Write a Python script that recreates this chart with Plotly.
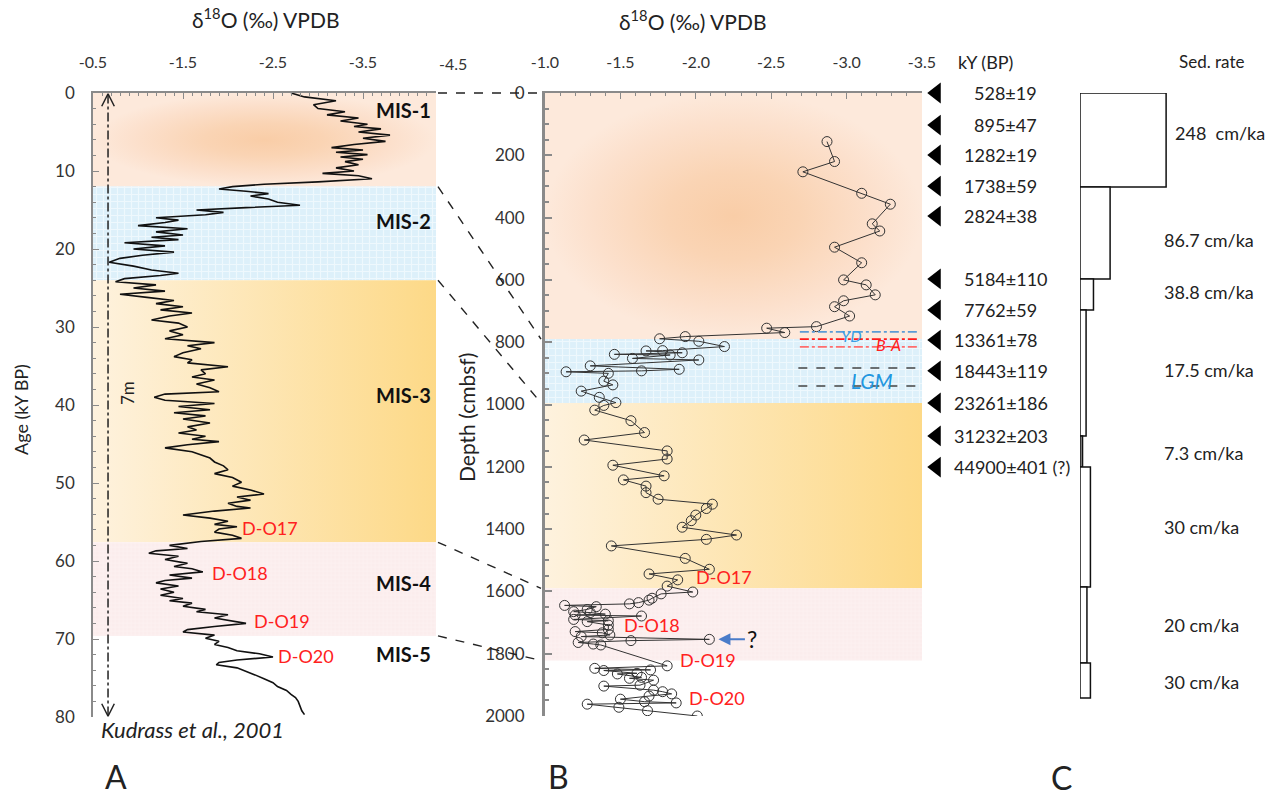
import plotly.graph_objects as go

# ---------------- data ----------------
# Panel A: Kudrass et al. 2001 record (age kY BP, d18O permil)
A_age = [0.0, 0.5, 1.0, 1.5, 2.0, 2.4, 2.8, 3.2, 3.6, 4.0, 4.3, 4.6, 5.0, 5.4, 5.8, 6.2, 6.6, 7.0, 7.3, 7.6,
         7.9, 8.2, 8.5, 8.8, 9.2, 9.6, 10.0, 10.3, 10.6, 11.0, 11.4, 11.7, 12.0, 12.3, 12.6, 12.9, 13.2, 13.6,
         14.0, 14.4, 14.7, 15.0, 15.3, 15.6, 16.0, 16.3, 16.6, 17.0, 17.4, 17.8, 18.2, 18.5, 18.8, 19.2, 19.6,
         20.0, 20.4, 20.8, 21.2, 21.7, 22.2, 22.7, 23.1, 23.4, 23.8, 24.2, 24.6, 25.0, 25.4, 25.8, 26.2, 26.6,
         27.0, 27.4, 27.8, 28.2, 28.6, 29.1, 29.5, 30.0, 30.5, 31.0, 31.5, 32.0, 32.4, 32.8, 33.3, 33.8, 34.2,
         34.6, 35.1, 35.5, 36.0, 36.4, 36.8, 37.3, 37.8, 38.3, 38.6, 39.0, 39.4, 39.8, 40.2, 40.6, 41.0, 41.4,
         41.8, 42.3, 42.8, 43.2, 43.6, 44.0, 44.4, 44.7, 45.1, 45.5, 46.0, 46.4, 46.8, 47.3, 47.8, 48.3, 48.8,
         49.3, 49.9, 50.4, 50.9, 51.4, 51.8, 52.2, 52.6, 53.0, 53.2, 53.6, 54.1, 54.5, 54.9, 55.3, 55.6, 55.9,
         56.3, 56.7, 57.1, 57.5, 58.0, 58.4, 58.7, 59.0, 59.4, 59.8, 60.3, 60.7, 61.0, 61.4, 61.8, 62.2, 62.5,
         62.8, 63.2, 63.6, 64.0, 64.4, 64.8, 65.1, 65.4, 65.8, 66.2, 66.5, 66.9, 67.3, 67.7, 68.0, 68.4, 68.8,
         69.1, 69.5, 69.9, 70.3, 70.7, 71.1, 71.5, 71.9, 72.3, 72.7, 73.0, 73.3, 73.7, 74.1, 74.6, 75.1, 75.6,
         76.1, 76.6, 77.1, 77.5, 78.0, 78.6, 79.2, 79.7]
A_d18o = [-2.70, -2.85, -3.20, -2.95, -3.00, -3.30, -3.10, -3.45, -3.25, -3.55, -3.40, -3.70, -3.45, -3.80,
          -3.50, -3.75, -3.40, -3.15, -3.50, -3.20, -3.55, -3.25, -3.50, -3.30, -3.45, -3.20, -3.40, -3.05,
          -3.45, -3.60, -3.00, -2.40, -2.05, -1.90, -2.20, -2.45, -2.25, -2.45, -2.55, -2.80, -2.20, -1.65,
          -1.95, -1.75, -1.20, -1.45, -1.30, -1.00, -1.55, -1.20, -1.50, -1.15, -1.45, -0.85, -1.30, -0.95,
          -1.40, -1.05, -0.80, -0.68, -0.95, -1.15, -1.45, -1.25, -0.85, -0.75, -1.20, -0.95, -1.30, -0.80,
          -1.10, -1.40, -1.20, -1.50, -1.25, -1.60, -1.35, -1.15, -1.45, -1.55, -1.35, -1.50, -1.30, -1.85,
          -1.55, -1.70, -1.50, -1.40, -1.60, -1.55, -2.00, -1.70, -1.75, -1.60, -1.85, -1.65, -1.80, -1.90,
          -1.30, -1.18, -1.30, -1.85, -1.45, -1.80, -1.40, -1.75, -1.50, -1.80, -1.55, -1.65, -1.45, -1.75,
          -1.60, -1.90, -1.55, -1.30, -1.60, -1.70, -1.80, -1.85, -1.95, -2.00, -1.85, -2.05, -2.15, -2.05,
          -2.25, -2.40, -2.10, -2.25, -2.00, -2.10, -2.25, -1.85, -1.50, -1.80, -2.00, -1.85, -2.10, -1.90,
          -1.85, -2.05, -2.15, -1.70, -1.35, -1.55, -1.20, -1.12, -1.45, -1.30, -1.55, -1.40, -1.60, -1.72,
          -1.35, -1.60, -1.30, -1.20, -1.45, -1.25, -1.40, -1.25, -1.50, -1.35, -1.60, -1.50, -1.75, -1.65,
          -2.00, -1.85, -2.05, -2.20, -1.85, -1.55, -1.50, -1.85, -1.75, -1.90, -1.85, -2.00, -2.10, -2.35,
          -2.50, -2.10, -1.90, -1.87, -2.10, -2.20, -2.30, -2.40, -2.50, -2.55, -2.65, -2.70, -2.75, -2.78,
          -2.80, -2.82, -2.85]

# Panel B: this core (depth cmbsf, d18O permil)
B_depth = [156, 220, 253, 322, 357, 420, 443, 495, 545, 600, 616, 648, 667, 686, 716, 750, 755, 769, 782, 789,
           797, 814, 827, 828, 834, 839, 841, 852, 857, 876, 887, 892, 895, 900, 925, 937, 957, 977, 994, 1003,
           1018, 1052, 1090, 1114, 1149, 1175, 1195, 1229, 1242, 1262, 1283, 1304, 1320, 1334, 1355, 1373, 1394,
           1419, 1433, 1454, 1494, 1529, 1544, 1563, 1583, 1602, 1608, 1622, 1628, 1636, 1640, 1645, 1649, 1658,
           1665, 1668, 1673, 1676, 1679, 1690, 1694, 1697, 1708, 1722, 1729, 1733, 1740, 1745, 1754, 1758, 1764,
           1769, 1772, 1839, 1847, 1852, 1854, 1863, 1865, 1876, 1879, 1885, 1901, 1904, 1917, 1922, 1929, 1936,
           1946, 1954, 1958, 1962, 1972, 1983, 2000]
B_d18o = [-2.87, -2.92, -2.71, -3.10, -3.29, -3.17, -3.22, -2.92, -3.10, -2.98, -3.13, -3.19, -2.98, -2.92,
          -3.02, -2.80, -2.47, -2.59, -1.93, -1.76, -2.02, -2.19, -1.78, -1.67, -1.91, -1.46, -1.83, -1.58,
          -2.02, -1.30, -1.89, -1.64, -1.14, -1.42, -1.39, -1.45, -1.24, -1.36, -1.47, -1.39, -1.33, -1.57,
          -1.66, -1.26, -1.81, -1.81, -1.45, -1.79, -1.52, -1.67, -1.67, -1.75, -2.11, -2.07, -2.00, -1.97,
          -1.91, -2.27, -2.07, -1.44, -1.93, -2.09, -1.69, -1.88, -1.81, -1.98, -1.77, -1.71, -1.69, -1.62,
          -1.56, -1.13, -1.34, -1.28, -1.19, -1.30, -1.40, -1.20, -1.64, -1.19, -1.42, -1.28, -1.42, -1.42,
          -1.20, -1.38, -1.43, -1.24, -2.09, -1.57, -1.22, -1.32, -1.37, -1.81, -1.33, -1.70, -1.39, -1.61,
          -1.48, -1.64, -1.56, -1.72, -1.63, -1.39, -1.72, -1.78, -1.84, -1.69, -1.50, -1.66, -1.87, -1.28,
          -1.49, -1.68, -2.01]

# Marine isotope stage boundaries
mis_names = ["MIS-1", "MIS-2", "MIS-3", "MIS-4", "MIS-5"]
mis_age_bounds = [0, 12, 24, 57.6, 69.6]          # kY BP
mis_depth_bounds = [0, 790, 995, 1590, 1822]      # cmbsf
mis_label_age = [2.2, 16.4, 38.7, 62.8, 71.9]

# D-O events
do_names = ["D-O17", "D-O18", "D-O19", "D-O20"]
do_age = [55.8, 61.5, 67.7, 72.2]
do_age_x = [-2.13, -1.80, -2.27, -2.53]
do_depth = [1554, 1708, 1820, 1942]
do_depth_x = [-1.99, -1.51, -1.88, -1.94]

# Radiocarbon dates (depth, label)
date_depth = [0, 103, 199, 299, 395, 597, 697, 793, 892, 995, 1101, 1201]
date_label = ["528±19", "895±47", "1282±19", "1738±59", "2824±38", "5184±110", "7762±59",
              "13361±78", "18443±119", "23261±186", "31232±203", "44900±401 (?)"]

# Sedimentation rates
sed_top = [0, 302, 597, 697, 1101, 1201, 1586, 1830]
sed_bottom = [302, 597, 697, 1101, 1201, 1586, 1830, 1942]
sed_rate = [248, 86.7, 38.8, 17.5, 7.3, 30, 20, 30]
sed_label = ["248&nbsp;&nbsp;cm/ka", "86.7 cm/ka", "38.8 cm/ka", "17.5 cm/ka", "7.3 cm/ka", "30 cm/ka",
             "20 cm/ka", "30 cm/ka"]
sed_label_depth = [128, 472, 639, 889, 1156, 1393, 1708, 1891]

# Event horizons in panel B
yd_depth = 767
ba_depths = [790, 815]
lgm_depths = [883, 941]
question_depth = 1754

A_xticks = [-0.5, -1.5, -2.5, -3.5, -4.5]
A_xticktext = ["-0.5", "-1.5", "-2.5", "-3.5", "-4.5"]
A_yticks = [0, 10, 20, 30, 40, 50, 60, 70, 80]
B_xticks = [-1.0, -1.5, -2.0, -2.5, -3.0, -3.5]
B_xticktext = ["-1.0", "-1.5", "-2.0", "-2.5", "-3.0", "-3.5"]
B_yticks = [0, 200, 400, 600, 800, 1000, 1200, 1400, 1600, 1800, 2000]

# ---------------- layout helpers ----------------
W, H = 1281, 797
FONT = "Lato"


def px(x):
    return x / W


def py(y):
    return 1 - y / H


A_dom_x = (93, 436)
A_rng_x = (-0.5, -0.5 - (436 - 93) / 90.0)   # 90 px per permil
A_dom_y = (93, 717)
A_rng_y = (0, 80)
B_dom_x = (545, 922)
B_rng_x = (-1.0, -3.5)
B_dom_y = (93, 716)
B_rng_y = (0, 2000)


def lin(v, dom, rng):
    return dom[0] + (v - rng[0]) / (rng[1] - rng[0]) * (dom[1] - dom[0])


fig = go.Figure()

# ---------- band fills ----------
radial = dict(type="radial", colorscale=[[0, "#F9CDA7"], [0.35, "#FAD4B4"], [0.75, "#FCE0CC"], [1, "#FDE9DB"]])
horiz = dict(type="horizontal", colorscale=[[0, "#FEF2DE"], [1, "#FDD987"]])
blue_pat = dict(shape="+", bgcolor="#DDF0FA", fgcolor="#FFFFFF", size=7, solidity=0.3)
pink_pat = dict(shape="+", bgcolor="#FBEDED", fgcolor="#FFF8F8", size=4, solidity=0.3)


def band(xref, yref, x0, x1, y0, y1, style):
    kw = dict(x=[x0, x1, x1, x0, x0], y=[y0, y0, y1, y1, y0], fill="toself", mode="lines",
              line=dict(width=0), hoverinfo="skip", showlegend=False, xaxis=xref, yaxis=yref)
    if style == "radial":
        kw["fillgradient"] = radial
        kw["fillcolor"] = "#FBD9BC"
    elif style == "horiz":
        kw["fillgradient"] = horiz
        kw["fillcolor"] = "#FEE6B0"
    elif style == "blue":
        kw["fillpattern"] = blue_pat
        kw["fillcolor"] = "#DDF0FA"
    else:
        kw["fillpattern"] = pink_pat
        kw["fillcolor"] = "#FBEDED"
    fig.add_trace(go.Scatter(**kw))


styles = ["radial", "blue", "horiz", "pink"]
for i, st in enumerate(styles):
    band("x", "y", A_rng_x[0], A_rng_x[1], mis_age_bounds[i], mis_age_bounds[i + 1], st)
    band("x2", "y2", B_rng_x[0], B_rng_x[1], mis_depth_bounds[i], mis_depth_bounds[i + 1], st)

# ---------- curves ----------
fig.add_trace(go.Scatter(x=A_d18o, y=A_age, mode="lines", line=dict(color="#111111", width=1.6),
                         xaxis="x", yaxis="y", showlegend=False, hoverinfo="skip"))
fig.add_trace(go.Scatter(x=B_d18o, y=B_depth, mode="lines+markers",
                         line=dict(color="#333333", width=1),
                         marker=dict(symbol="circle-open", size=10, color="#333333", line=dict(width=1)),
                         xaxis="x2", yaxis="y2", showlegend=False, hoverinfo="skip"))

# 7 m arrow (dash-dot with open heads)
arrow_x = -0.667
fig.add_shape(type="line", xref="x", yref="y", x0=arrow_x, x1=arrow_x, y0=0.2, y1=79.8,
              line=dict(color="#222222", width=1.5, dash="dashdot"))
fig.add_trace(go.Scatter(x=[arrow_x - 0.07, arrow_x, arrow_x + 0.07], y=[1.7, 0.1, 1.7], mode="lines",
                         line=dict(color="#222222", width=1.5), xaxis="x", yaxis="y",
                         showlegend=False, hoverinfo="skip"))
fig.add_trace(go.Scatter(x=[arrow_x - 0.07, arrow_x, arrow_x + 0.07], y=[78.3, 79.9, 78.3], mode="lines",
                         line=dict(color="#222222", width=1.5), xaxis="x", yaxis="y",
                         showlegend=False, hoverinfo="skip"))

# triangles for dates
fig.add_trace(go.Scatter(x=[0.09] * len(date_depth), y=date_depth, mode="markers",
                         marker=dict(symbol="triangle-left", size=18, color="black"),
                         xaxis="x4", yaxis="y2", showlegend=False, hoverinfo="skip", cliponaxis=False))

# sed-rate boxes
for t, b, r in zip(sed_top, sed_bottom, sed_rate):
    fig.add_shape(type="rect", xref="x3", yref="y3", x0=0, x1=r, y0=t, y1=b,
                  line=dict(color="#111111", width=1.5),
                  fillcolor="#9a9a9a" if r < 10 else "white")

# event lines in B
fig.add_shape(type="line", xref="x2", yref="y2", x0=-2.69, x1=-3.48, y0=yd_depth, y1=yd_depth,
              line=dict(color="#5B9BD5", width=1.8, dash="dashdot"))
for d, c in zip(ba_depths, ["#FF1A1A", "#FF6E6E"]):
    fig.add_shape(type="line", xref="x2", yref="y2", x0=-2.69, x1=-3.48, y0=d, y1=d,
                  line=dict(color=c, width=1.6, dash="dashdot"))
for d in lgm_depths:
    fig.add_shape(type="line", xref="x2", yref="y2", x0=-2.68, x1=-3.46, y0=d, y1=d,
                  line=dict(color="#444444", width=1.5, dash="dash"))

# connectors between A and B
for a, d in zip(mis_age_bounds, mis_depth_bounds):
    ya = lin(a, A_dom_y, A_rng_y)
    yb = lin(d, B_dom_y, B_rng_y)
    fig.add_shape(type="line", xref="paper", yref="paper", x0=px(438), x1=px(541),
                  y0=py(ya), y1=py(yb), line=dict(color="#222222", width=1.4, dash="dash"))

# ---------- annotations ----------
ann = []


def T(text, x, y, size=15, color="#222222", xref="paper", yref="paper", xanchor="center",
      yanchor="middle", bold=False, italic=False, angle=0, family=FONT):
    if bold:
        text = "<b>" + text + "</b>"
    if italic:
        text = "<i>" + text + "</i>"
    ann.append(dict(text=text, x=x, y=y, xref=xref, yref=yref, xanchor=xanchor, yanchor=yanchor,
                    showarrow=False, textangle=angle, font=dict(size=size, color=color, family=family)))


T("δ<sup>18</sup>O (‰) VPDB", px(265), py(18), size=21)
T("δ<sup>18</sup>O (‰) VPDB", px(692), py(20), size=21)
T("kY (BP)", px(985), py(62), size=18)
T("Sed. rate", px(1211), py(62), size=17)
T("Age (kY BP)", px(21), py(410), size=18, angle=-90)
T("Depth (cmbsf)", px(466), py(418), size=21, angle=-90)
T("7m", px(127), py(393), size=17, angle=-90)
T("Kudrass et al., 2001", px(99), py(729), size=22, italic=True, xanchor="left")
T("A", px(116), py(776), size=32)
T("B", px(558), py(776), size=32)
T("C", px(1061), py(777), size=32)

# A top-axis label beyond the panel edge (reference places -4.5 past the frame)
T(A_xticktext[-1], px(lin(A_xticks[-1], A_dom_x, A_rng_x)), py(63), size=16, color="#333333")

for name, a in zip(mis_names, mis_label_age):
    T(name, A_rng_x[1] + 0.03, a, size=20, bold=True, xref="x", yref="y", xanchor="right", color="#111111")
for name, a, x in zip(do_names, do_age, do_age_x):
    T(name, x, a, size=18, color="#FF2020", xref="x", yref="y", xanchor="left")
for name, d, x in zip(do_names, do_depth, do_depth_x):
    T(name, x, d, size=18, color="#FF2020", xref="x2", yref="y2", xanchor="left")

T("YD", -3.03, yd_depth + 12, size=16, color="#3AA0E6", xref="x2", yref="y2", italic=True)
T("B-A", -3.28, 806, size=16, color="#FF2020", xref="x2", yref="y2", italic=True)
T("LGM", -3.17, 922, size=21, color="#2196E0", xref="x2", yref="y2", italic=True)

# blue arrow with question mark
ann.append(dict(x=-2.15, y=question_depth, xref="x2", yref="y2", ax=28, ay=0, text="",
                showarrow=True, arrowhead=2, arrowsize=1.2, arrowwidth=2, arrowcolor="#4A7CC9"))
T("?", -2.37, question_depth, size=23, color="#111111", xref="x2", yref="y2")

# date labels (aligned on the ± sign)
for d, lab in zip(date_depth, date_label):
    n = len(lab.split("±")[0])
    left = 1003 - 10.3 * n
    T(lab, px(left), d, size=18, xref="paper", yref="y2", xanchor="left")

# sed-rate labels
for d, lab in zip(sed_label_depth, sed_label):
    left = 1173 if lab.startswith("248") else 1162
    T(lab, px(left), d, size=18, xref="paper", yref="y2", xanchor="left")

# ---------- axes ----------
axcol = "#8a8a8a"
tickfont = dict(family=FONT, size=16, color="#333333")

fig.update_layout(
    width=W, height=H, margin=dict(l=0, r=0, t=0, b=0, pad=0, autoexpand=False),
    paper_bgcolor="white", plot_bgcolor="rgba(0,0,0,0)",
    showlegend=False, annotations=ann,
    xaxis=dict(domain=[px(A_dom_x[0]), px(A_dom_x[1])], range=list(A_rng_x), side="top", anchor="y",
               automargin=False,
               showline=True, linecolor=axcol, linewidth=1.5, ticks="inside", ticklen=6, tickcolor=axcol,
               tickmode="array", tickvals=A_xticks[:-1], ticktext=A_xticktext[:-1], tickfont=tickfont,
               ticklabelstandoff=17, showgrid=False, zeroline=False,
               minor=dict(tickmode="linear", tick0=-0.5, dtick=0.1, ticklen=3, ticks="inside",
                          tickcolor=axcol, showgrid=False)),
    yaxis=dict(domain=[py(A_dom_y[1]), py(A_dom_y[0])], range=[80, 0], anchor="x",
               automargin=False,
               showline=True, linecolor=axcol, linewidth=1.5, ticks="inside", ticklen=6, tickcolor=axcol,
               tickmode="array", tickvals=A_yticks, tickfont=dict(family=FONT, size=17, color="#333333"),
               ticklabelstandoff=13, showgrid=False, zeroline=False,
               minor=dict(tickmode="linear", tick0=0, dtick=2, ticklen=3, ticks="inside",
                          tickcolor=axcol, showgrid=False)),
    xaxis2=dict(domain=[px(B_dom_x[0]), px(B_dom_x[1])], range=list(B_rng_x), side="top", anchor="y2",
                automargin=False,
                showline=True, linecolor=axcol, linewidth=1.5, ticks="inside", ticklen=6, tickcolor=axcol,
                tickmode="array", tickvals=B_xticks, ticktext=B_xticktext, tickfont=tickfont,
                ticklabelstandoff=17, showgrid=False, zeroline=False,
                minor=dict(tickmode="linear", tick0=-1.0, dtick=0.1, ticklen=3, ticks="inside",
                           tickcolor=axcol, showgrid=False)),
    yaxis2=dict(domain=[py(B_dom_y[1]), py(B_dom_y[0])], range=[2000, 0], anchor="x2",
                automargin=False,
                showline=True, linecolor=axcol, linewidth=3, ticks="inside", ticklen=7, tickcolor=axcol,
                tickwidth=1.5, tickmode="array", tickvals=B_yticks,
                tickfont=dict(family=FONT, size=17, color="#333333"),
                ticklabelstandoff=14, showgrid=False, zeroline=False,
                minor=dict(tickmode="linear", tick0=0, dtick=50, ticklen=4, ticks="inside",
                           tickcolor=axcol, showgrid=False)),
    xaxis3=dict(domain=[px(1080), px(1180)], range=[0, 288], anchor="y3", visible=False, automargin=False),
    yaxis3=dict(domain=[py(B_dom_y[1]), py(B_dom_y[0])], range=[2000, 0], anchor="x3", visible=False,
                automargin=False),
    xaxis4=dict(domain=[px(922), px(1080)], range=[0, 1], anchor="y2", visible=False, automargin=False),
)

fig.write_html("out.html")
